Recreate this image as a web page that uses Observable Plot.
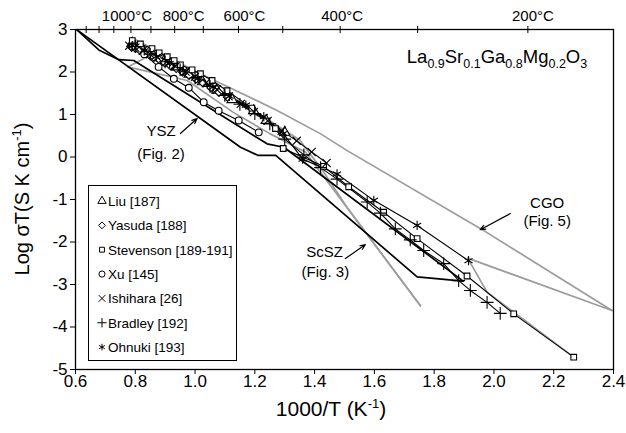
<!DOCTYPE html>
<html><head><meta charset="utf-8">
<script src="https://cdn.jsdelivr.net/npm/d3@7"></script>
<script src="https://cdn.jsdelivr.net/npm/@observablehq/plot@0.6"></script>
<style>
html,body{margin:0;padding:0;background:#fff;}
#chart{width:626px;height:433px;}
</style></head><body><div id="chart"></div>
<script>
// ---------- axis ticks ----------
const xTicks = [0.6, 0.8, 1.0, 1.2, 1.4, 1.6, 1.8, 2.0, 2.2, 2.4];
const yTicks = [3, 2, 1, 0, -1, -2, -3, -4, -5];
const topTempsC = [1300, 1200, 1100, 1000, 900, 800, 700, 600, 500, 400, 300, 200];
const topLabelTemps = [1000, 800, 600, 400, 200];
const topLabelShift = [-4, 9, 6, 2, 5];

// ---------- LSGM series: [1000/T, log sigmaT] ----------
const liu = [[0.790,2.68],[0.822,2.55],[0.858,2.42],[0.897,2.27],[0.937,2.12],[0.980,1.95],[1.025,1.77],[1.073,1.57],[1.124,1.35],[1.196,1.09],[1.238,0.86],[1.300,0.58]];
const yasuda = [[0.785,2.60],[0.800,2.56],[0.815,2.51],[0.830,2.46],[0.846,2.41],[0.862,2.35],[0.880,2.29],[0.898,2.22],[0.917,2.15],[0.937,2.08],[0.958,2.00],[0.980,1.92],[1.003,1.83],[1.027,1.74],[1.053,1.63],[1.080,1.52],[1.108,1.41]];
const stevensonA = [[0.790,2.74],[0.817,2.66],[0.856,2.55],[0.880,2.45],[0.907,2.36],[0.930,2.27],[0.951,2.17],[0.990,2.05],[1.018,1.96],[1.057,1.80],[1.107,1.56],[1.190,1.15],[1.269,0.67]];
const stevensonB = [[1.295,0.20],[1.430,-0.22],[1.514,-0.70],[1.631,-1.30],[1.743,-1.92],[1.910,-2.80],[2.066,-3.69],[2.267,-4.71]];
const xu = [[0.790,2.60],[0.830,2.42],[0.878,2.12],[0.929,1.84],[0.979,1.63],[1.029,1.29],[1.079,1.09],[1.146,0.86],[1.213,0.58]];
const ishihara = [[0.780,2.62],[0.800,2.57],[0.825,2.50],[0.850,2.42],[0.875,2.34],[0.905,2.24],[0.935,2.13],[0.968,2.01],[1.000,1.89],[1.036,1.74],[1.073,1.59],[1.112,1.43],[1.153,1.25],[1.197,1.06],[1.243,0.85],[1.290,0.62],[1.340,0.38],[1.390,0.12],[1.440,-0.14]];
const bradley = [[0.800,2.60],[0.850,2.42],[0.900,2.24],[0.950,2.05],[1.000,1.86],[1.050,1.66],[1.100,1.45],[1.150,1.24],[1.200,1.02],[1.250,0.78],[1.300,0.42],[1.364,0.05],[1.420,-0.25],[1.475,-0.52],[1.576,-1.06],[1.620,-1.32],[1.670,-1.69],[1.720,-1.95],[1.765,-2.20],[1.832,-2.51],[1.882,-2.91],[1.921,-3.14],[1.977,-3.42],[2.021,-3.68]];
const ohnuki = [[0.790,2.62],[0.830,2.50],[0.870,2.36],[0.915,2.20],[0.960,2.03],[1.010,1.85],[1.060,1.65],[1.115,1.43],[1.170,1.22],[1.230,0.95],[1.295,0.55],[1.360,-0.05],[1.475,-0.40],[1.598,-1.02],[1.743,-1.61],[1.915,-2.44]];

// ---------- reference envelopes ----------
const yszLower = [[0.605,2.99],[1.152,0.23],[1.210,0.04],[1.270,0.04],[1.743,-2.82],[1.897,-2.92]];
const yszUpper = [[0.605,2.99],[0.678,2.52],[0.745,2.29],[0.795,2.27],[1.241,0.31],[1.297,0.23],[1.897,-2.92]];
const scszA = [[0.840,2.36],[0.775,2.12],[0.974,1.80],[1.128,1.05],[1.250,0.55],[1.369,0.12],[1.754,-3.50]];
const scszB = [[0.840,2.36],[1.000,1.85],[1.200,1.08],[1.350,0.40],[1.430,-0.35],[1.510,-1.20],[1.754,-3.50]];
const cgoUpper = [[0.790,2.80],[0.900,2.40],[1.000,2.02],[1.120,1.62],[1.276,1.09],[1.419,0.55],[1.509,0.15],[1.954,-1.68],[2.395,-3.61]];
const cgoLower = [[1.912,-2.38],[2.395,-3.61]];
const cgoTail = [[1.912,-2.38],[1.977,-3.18],[2.267,-4.71]];

// ---------- annotations ----------
const noteText = ["YSZ", "(Fig. 2)", "ScSZ", "(Fig. 3)", "CGO", "(Fig. 5)"];
const noteX = [0.886, 0.886, 1.433, 1.436, 2.178, 2.178];
const noteY = [0.60, 0.06, -2.25, -2.71, -1.08, -1.52];
const arrowFrom = [[0.951,0.553],[1.503,-2.39],[2.055,-1.33]];
const arrowTo = [[1.007,0.906],[1.570,-2.06],[1.954,-1.71]];

// ---------- legend ----------
const legendNames = ["Liu [187]", "Yasuda [188]", "Stevenson [189-191]", "Xu [145]", "Ishihara [26]", "Bradley [192]", "Ohnuki [193]"];
const legendSymbols = ["triangle", "diamond2", "square2", "circle", "times", "plus", "asterisk"];

const FONT = "'Liberation Sans', Arial, Helvetica, sans-serif";
const gray = "#9c9c9c";
const topTicks = topTempsC.map(c => 1000 / (c + 273.15));
const px = d => d[0], py = d => d[1];
const openSyms = ["times", "plus", "asterisk"];

const seriesList = [
  {data: liu, symbol: "triangle", r: 3.8},
  {data: yasuda, symbol: "diamond2", r: 3.6},
  {data: stevensonA, symbol: "square2", r: 3.6},
  {data: stevensonB, symbol: "square2", r: 3.6},
  {data: xu, symbol: "circle", r: 3.4},
  {data: ishihara, symbol: "times", r: 3.8},
  {data: bradley, symbol: "plus", r: 4.2},
  {data: ohnuki, symbol: "asterisk", r: 4.4}
];

const marks = [];
for (const g of [scszA, scszB, cgoUpper, cgoLower, cgoTail])
  marks.push(Plot.line(g, {x: px, y: py, stroke: gray, strokeWidth: 1.7}));
for (const b of [yszLower, yszUpper])
  marks.push(Plot.line(b, {x: px, y: py, stroke: "black", strokeWidth: 1.7}));
for (const s of seriesList)
  marks.push(Plot.line(s.data, {x: px, y: py, stroke: "black", strokeWidth: 1.1}));
for (const s of seriesList)
  marks.push(Plot.dot(s.data, {x: px, y: py, symbol: s.symbol, r: s.r, stroke: "black", strokeWidth: 1.1, fill: openSyms.includes(s.symbol) ? "none" : "white"}));

marks.push(Plot.arrow(arrowFrom.map((f, i) => ({f, t: arrowTo[i]})), {
  x1: d => d.f[0], y1: d => d.f[1], x2: d => d.t[0], y2: d => d.t[1],
  stroke: "black", strokeWidth: 1.2, headLength: 7, headAngle: 45
}));
marks.push(Plot.text(noteText, {x: (d, i) => noteX[i], y: (d, i) => noteY[i], text: d => d, fontSize: 15, fill: "black", textAnchor: "middle"}));

// top temperature labels (one mark each so each can carry its own offset)
topLabelTemps.forEach((c, i) => {
  marks.push(Plot.text([c], {x: d => 1000 / (d + 273.15), y: () => 3, text: d => d + "°C", dx: topLabelShift[i], dy: -13,
    fontSize: 15, fill: "black", textAnchor: "middle", clip: false}));
});

const chart = Plot.plot({
  width: 626, height: 433,
  marginLeft: 75, marginRight: 13, marginTop: 29, marginBottom: 64,
  x: {domain: [0.6, 2.4]},
  y: {domain: [-5, 3]},
  style: {fontFamily: FONT, fontSize: "16px", color: "#000", background: "#fff", overflow: "visible"},
  marks: [
    Plot.axisX(xTicks, {anchor: "bottom", tickSize: 5, tickPadding: 0, tickFormat: d => d.toFixed(1), fontSize: 17, label: null}),
    Plot.axisY(yTicks, {anchor: "left", tickSize: 5, tickPadding: 3, tickFormat: d => String(d), fontSize: 17, label: null}),
    Plot.axisX(topTicks, {anchor: "top", tickSize: 4, tickFormat: () => "", label: null}),
    Plot.ruleX(topTicks, {y1: 3, y2: 3, insetBottom: -4, stroke: "black"}),
    ...marks,
    Plot.frame({stroke: "black", strokeWidth: 1.3})
  ]
});
document.getElementById("chart").appendChild(chart);

// ---------- added text: formula, axis titles, legend ----------
const svg = d3.select(chart);

const formula = svg.append("text").attr("x", 497).attr("y", 63)
  .attr("text-anchor", "middle").attr("font-family", FONT).attr("font-size", 18.5).attr("fill", "black");
const parts = [["La",0],["0.9",1],["Sr",0],["0.1",1],["Ga",0],["0.8",1],["Mg",0],["0.2",1],["O",0],["3",1]];
let prevSub = 0;
for (const [t, sub] of parts) {
  formula.append("tspan").attr("dy", sub === prevSub ? 0 : (sub ? 5 : -5))
    .attr("font-size", sub ? 12.5 : 18.5).text(t);
  prevSub = sub;
}

const yl = svg.append("text").attr("transform", "translate(29,199) rotate(-90)")
  .attr("text-anchor", "middle").attr("font-family", FONT).attr("font-size", 20).attr("fill", "black");
yl.append("tspan").text("Log σT(S K cm");
yl.append("tspan").attr("dy", -8).attr("font-size", 13).text("-1");
yl.append("tspan").attr("dy", 8).text(")");

const xl = svg.append("text").attr("x", 331).attr("y", 416)
  .attr("text-anchor", "middle").attr("font-family", FONT).attr("font-size", 21).attr("fill", "black");
xl.append("tspan").text("1000/T (K");
xl.append("tspan").attr("dy", -8).attr("font-size", 13).text("-1");
xl.append("tspan").attr("dy", 8).text(")");

const symMap = {triangle: d3.symbolTriangle, diamond2: d3.symbolDiamond2, square2: d3.symbolSquare2, circle: d3.symbolCircle, times: d3.symbolTimes, plus: d3.symbolPlus, asterisk: d3.symbolAsterisk};
const lg = svg.append("g");
lg.append("rect").attr("x", 88.5).attr("y", 185.5).attr("width", 148).attr("height", 175)
  .attr("fill", "white").attr("stroke", "black").attr("stroke-width", 1);
legendNames.forEach((name, i) => {
  const cy = 201 + i * 24.35;
  const s = legendSymbols[i];
  lg.append("path").attr("transform", `translate(102,${cy})`)
    .attr("d", d3.symbol(symMap[s], 30)())
    .attr("fill", openSyms.includes(s) ? "none" : "white")
    .attr("stroke", "black").attr("stroke-width", 1);
  lg.append("text").attr("x", 108).attr("y", cy + 5).attr("text-anchor", "start").attr("font-family", FONT)
    .attr("font-size", 13.5).attr("fill", "black").text(name);
});
</script>
</body></html>
